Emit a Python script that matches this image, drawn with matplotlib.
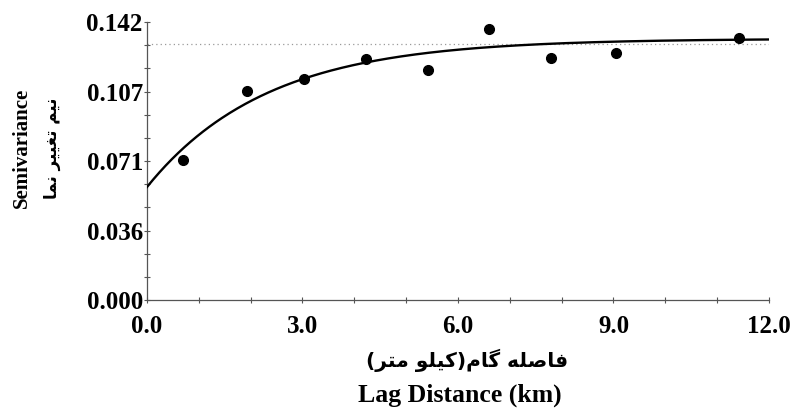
import numpy as np
import matplotlib
matplotlib.use("Agg")
import matplotlib.pyplot as plt
from matplotlib.ticker import MultipleLocator, FixedLocator

# ---- data ----
lag_km = [0.69, 1.93, 3.03, 4.23, 5.42, 6.60, 7.79, 9.05, 11.42]
semivar = [0.0715, 0.1067, 0.1128, 0.1230, 0.1175, 0.1384, 0.1236, 0.1260, 0.1338]

# exponential model parameters
nugget = 0.0577
partial_sill = 0.0758
eff_range = 6.93          # km
sample_var = 0.1307       # dotted reference line

y_ticks = [0.0, 0.0355, 0.071, 0.1065, 0.142]
y_tick_labels = ["0.000", "0.036", "0.071", "0.107", "0.142"]
x_ticks = [0.0, 3.0, 6.0, 9.0, 12.0]
x_tick_labels = ["0.0", "3.0", "6.0", "9.0", "12.0"]

# Persian labels, shaped into presentation forms (visual order)
def visual(s):
    return s[::-1]

# نیم تغییر نما
fa_ylabel = visual("\uFEE7\uFEF4\uFEE2" + " " + "\uFE97\uFED0\uFEF4\uFEF4\uFEAE" + " " + "\uFEE7\uFEE4\uFE8E")
# فاصله گام(کیلو متر)
fa_xlabel = visual("\uFED3\uFE8E\uFEBB\uFEE0\uFEEA" + " " + "\uFB94\uFE8E\uFEE1" + ")" +
                   "\uFB90\uFEF4\uFEE0\uFEEE" + " " + "\uFEE3\uFE98\uFEAE" + "(")

fig = plt.figure(figsize=(7.94, 4.13), dpi=100)
ax = fig.add_axes([0.1851, 0.2736, 0.7834, 0.6731])

h = np.linspace(0, 12, 400)
gamma = nugget + partial_sill * (1 - np.exp(-3 * h / eff_range))
ax.plot(h, gamma, color="black", lw=1.7, zorder=3)
ax.plot([0, 12], [sample_var, sample_var], color="#9a9a9a", lw=0.9,
        linestyle=(0, (1, 2.5)), zorder=2)
ax.plot(lag_km, semivar, "o", color="black", markersize=7, zorder=4)

ax.set_xlim(0, 12)
ax.set_ylim(0, 0.142)
for s in ["top", "right"]:
    ax.spines[s].set_visible(False)
for s in ["left", "bottom"]:
    ax.spines[s].set_color("#555555")
    ax.spines[s].set_linewidth(0.9)

serif = ["Liberation Serif", "DejaVu Serif"]
ax.xaxis.set_major_locator(FixedLocator(x_ticks))
ax.set_xticklabels(x_tick_labels, fontfamily=serif, fontweight="bold", fontsize=18)
ax.xaxis.set_minor_locator(MultipleLocator(1.0))
ax.yaxis.set_major_locator(FixedLocator(y_ticks))
ax.set_yticklabels(y_tick_labels, fontfamily=serif, fontweight="bold", fontsize=18)
ax.yaxis.set_minor_locator(MultipleLocator(0.142 / 12))
ax.tick_params(which="both", direction="inout", length=4, width=0.8, color="#555555")
ax.tick_params(axis="y", pad=1)
ax.tick_params(axis="x", pad=9)

fig.text(0.588, 0.128, fa_xlabel, ha="center", va="center",
         family=["DejaVu Sans"], fontweight="bold", fontsize=14.5)
fig.text(0.579, 0.042, "Lag Distance (km)", ha="center", va="center",
         family=serif, fontweight="bold", fontsize=18.5)
fig.text(0.027, 0.642, "Semivariance", ha="center", va="center", rotation=90,
         family=serif, fontweight="bold", fontsize=15)
fig.text(0.066, 0.642, fa_ylabel, ha="center", va="center", rotation=90,
         family=["DejaVu Sans"], fontweight="bold", fontsize=12)

fig.savefig("out.png", dpi=100)
